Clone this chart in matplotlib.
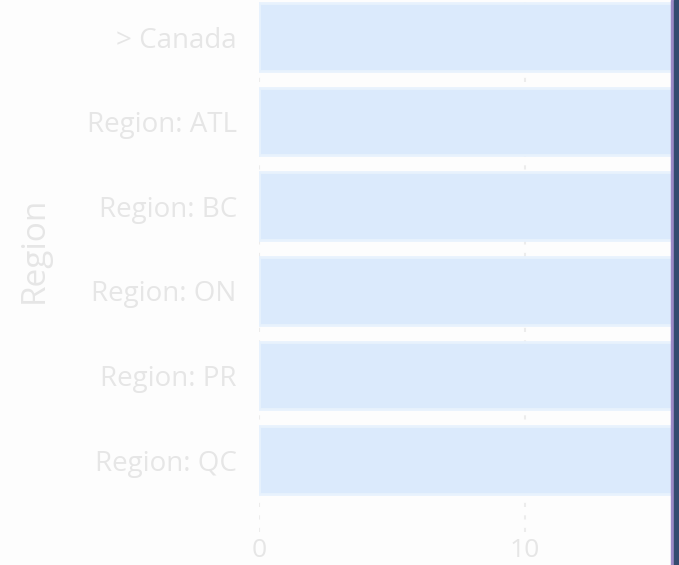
import matplotlib
matplotlib.use("Agg")
import matplotlib.pyplot as plt
from matplotlib.patches import Rectangle

# Data: bars run past the visible right edge of the clipped view.
regions = ["> Canada", "Region: ATL", "Region: BC", "Region: ON", "Region: PR", "Region: QC"]
values = [20, 20, 20, 20, 20, 20]
xticks = [0, 10]

W, H = 679, 565
fig = plt.figure(figsize=(W / 100, H / 100), dpi=100, facecolor="#fdfdfd")

# axes spans pixel x 259..671, y 0..532
ax = fig.add_axes([259 / W, 1 - 532 / H, (671 - 259) / W, 532 / H])
ax.set_facecolor("#fdfdfd")

pitch = 84.6
ypos = list(range(len(regions)))
ax.barh(ypos, values, height=0.8, color="#dbeafc", edgecolor="#e8f2fd",
        linewidth=2, zorder=2)

ax.set_xlim(0, (671 - 259) / 26.6)
ax.set_ylim(5 + (532 - 460) / pitch, -37 / pitch)
ax.set_yticks(ypos)
ax.set_yticklabels(regions)
ax.set_xticks(xticks)
ax.set_xticklabels([str(t) for t in xticks])

txt = "#e6e6e6"
ax.tick_params(axis="y", length=0, pad=16, labelsize=20, labelcolor=txt)
ax.tick_params(axis="x", length=0, pad=4, labelsize=19, labelcolor=txt)
for lab in ax.get_xticklabels() + ax.get_yticklabels():
    lab.set_fontfamily("Open Sans")
ax.xaxis.grid(True, ls=(0, (2, 4)), color="#ececec", lw=1.5, zorder=0)
ax.set_axisbelow(True)
for s in ax.spines.values():
    s.set_visible(False)

fig.text(34 / W, 1 - 250 / H, "Region", rotation=90, ha="center", va="center",
         fontsize=24, color=txt, family="Open Sans")

# panel border at the right edge
fig.patches.append(Rectangle((671 / W, 0), 3 / W, 1, transform=fig.transFigure,
                             color="#9c8ac6", zorder=5))
fig.patches.append(Rectangle((674 / W, 0), 5 / W, 1, transform=fig.transFigure,
                             color="#344b6f", zorder=5))

fig.savefig("out.png", dpi=100, facecolor=fig.get_facecolor())
